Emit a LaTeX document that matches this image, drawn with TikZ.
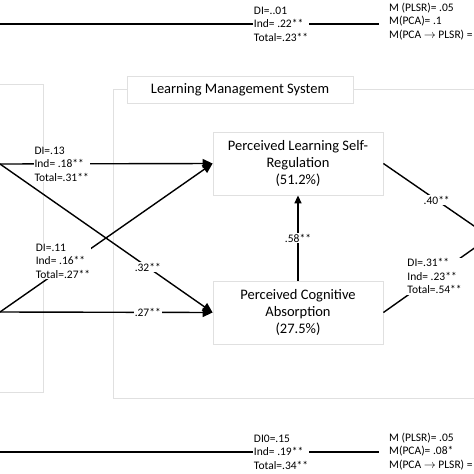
\documentclass[tikz,border=0pt]{standalone}
\usepackage{fontspec}
\setmainfont{Carlito}
\usetikzlibrary{arrows.meta}
\tikzset{
  panel/.style={draw=black!12, line width=0.8pt},
  factor/.style={panel, fill=white, align=center, minimum width=170pt, minimum height=63pt,
    inner sep=2pt, font=\fontsize{14.5}{17}\selectfont},
  link/.style={line width=1.4pt},
  arr/.style={link, -{Triangle[length=10pt,width=9pt]}},
  lbl/.style={fill=white, inner sep=1pt, align=left, font=\fontsize{11.5}{13.5}\selectfont},
}
\begin{document}
\begin{tikzpicture}[x=1pt,y=-1pt]
\useasboundingbox (0,0) rectangle (474,474);
\clip (0,0) rectangle (474,474);
% frames
\draw[panel] (-10,84) -| (43,392) -- (-10,392);
\node[panel, minimum width=226pt, minimum height=27pt, inner sep=0pt,
  font=\fontsize{14.5}{17}\selectfont] (lms) at (240,89.5) {Learning Management System};
\draw[panel] (lms.west) -- (113,89.5) |- (490,398);
\draw[panel] (lms.east) -- (490,89.5);
% factors
\node[factor] (plsr) at (298,163.5) {Perceived Learning Self-\\Regulation\\(51.2\%)};
\node[factor] (pca) at (298,312.5) {Perceived Cognitive\\Absorption\\(27.5\%)};
\coordinate (src1) at (0,164);
\coordinate (src2) at (0,312);
\coordinate (outcome) at (490,237);
% paths
\draw[arr] (src1) -- node[lbl,pos=0.29] {DI=.13\\Ind= .18**\\Total=.31**} (plsr.west);
\draw[arr] (src1) -- node[lbl,pos=0.695] {.32**} (pca.west);
\draw[arr] (src2) -- node[lbl,pos=0.695] {.27**} (pca.west);
\draw[arr] (src2) -- node[lbl,pos=0.296,yshift=7pt] {DI=.11\\Ind= .16**\\Total=.27**} (plsr.west);
\draw[arr,-{Triangle[length=8pt,width=7pt]}] (pca) -- node[lbl] {.58**} (plsr);
\draw[link] (plsr.east) -- node[lbl,pos=0.5] {.40**} (outcome);
\draw[link] (pca.east) -- node[lbl,pos=0.48] {DI=.31**\\Ind= .23**\\Total=.54**} (outcome);
% total effects
\node[lbl, anchor=west, inner xsep=10pt] (mtop) at (379,21.5)
  {M (PLSR)= .05\\M(PCA)= .1\\M(PCA $\rightarrow$ PLSR) =};
\coordinate (topsrc) at (-5,24);
\draw[link] (topsrc) -- node[lbl,pos=0.745] {DI=..01\\Ind= .22**\\Total=.23**} (topsrc -| mtop.west);
\node[lbl, anchor=west, inner xsep=10pt] (mbot) at (379,451.5)
  {M (PLSR)= .05\\M(PCA)= .08*\\M(PCA $\rightarrow$ PLSR) =};
\coordinate (botsrc) at (-5,452);
\draw[link] (botsrc) -- node[lbl,pos=0.745] {DI0=.15\\Ind= .19**\\Total=.34**} (botsrc -| mbot.west);
\end{tikzpicture}
\end{document}
